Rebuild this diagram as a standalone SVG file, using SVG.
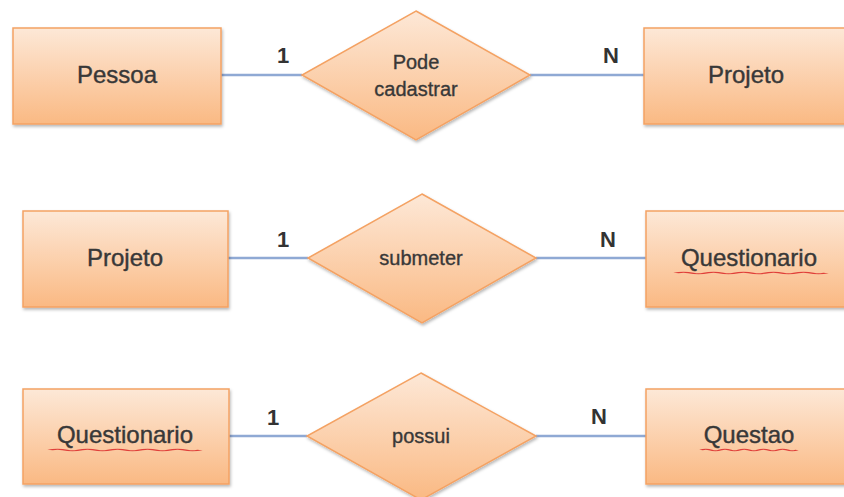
<svg xmlns="http://www.w3.org/2000/svg" width="844" height="497" viewBox="0 0 844 497">
  <defs>
    <linearGradient id="peach" x1="0" y1="0" x2="0" y2="1">
      <stop offset="0" stop-color="#fde8d7"/>
      <stop offset="1" stop-color="#fab983"/>
    </linearGradient>
    <filter id="shadow" x="-10%" y="-10%" width="130%" height="130%">
      <feDropShadow dx="1" dy="2" stdDeviation="1.5" flood-color="#000" flood-opacity="0.28"/>
    </filter>
    <path id="wave" d="M0,0 q1,-1.4 2,0 t2,0 t2,0 t2,0 t2,0 t2,0 t2,0 t2,0 t2,0 t2,0"/>
  </defs>
  <style>
    .shape { fill: url(#peach); stroke: #f4a263; stroke-width: 1.5; filter: url(#shadow); }
    .link { stroke: #8fa9d4; stroke-width: 2.5; fill: none; }
    .big { font-family: "Liberation Sans", Arial, sans-serif; font-size: 24px; fill: #383838; stroke: #383838; stroke-width: 0.4; text-anchor: middle; }
    .rel { font-family: "Liberation Sans", Arial, sans-serif; font-size: 20px; fill: #383838; stroke: #383838; stroke-width: 0.35; text-anchor: middle; }
    .card { font-family: "Liberation Sans", Arial, sans-serif; font-size: 22px; font-weight: bold; fill: #333333; text-anchor: middle; }
    .spell { stroke: #e0403a; stroke-width: 0.9; fill: none; }
  </style>
  <rect width="844" height="497" fill="#ffffff"/>

  <!-- connectors with cardinality labels -->
  <g id="connectors">
    <line class="link" x1="221" y1="75" x2="302" y2="75"/>
    <line class="link" x1="530" y1="75" x2="644" y2="75"/>
    <line class="link" x1="228" y1="258" x2="308" y2="258"/>
    <line class="link" x1="536" y1="258" x2="646" y2="258"/>
    <line class="link" x1="229" y1="436" x2="307" y2="436"/>
    <line class="link" x1="536" y1="436" x2="646" y2="436"/>
    <text class="card" x="283" y="63">1</text>
    <text class="card" x="611" y="63">N</text>
    <text class="card" x="283" y="247">1</text>
    <text class="card" x="608" y="247">N</text>
    <text class="card" x="273" y="425">1</text>
    <text class="card" x="599" y="424">N</text>
  </g>

  <!-- row 1: Pessoa - Pode cadastrar - Projeto -->
  <g id="pessoa">
    <rect class="shape" x="13" y="28" width="208" height="96"/>
    <text class="big" x="117" y="83">Pessoa</text>
  </g>
  <g id="pode-cadastrar">
    <polygon class="shape" points="416,11 530,75 416,140 302,75"/>
    <text class="rel" x="416" y="69">Pode</text>
    <text class="rel" x="416" y="96">cadastrar</text>
  </g>
  <g id="projeto-1">
    <rect class="shape" x="644" y="28" width="210" height="96"/>
    <text class="big" x="746" y="83">Projeto</text>
  </g>

  <!-- row 2: Projeto - submeter - Questionario -->
  <g id="projeto-2">
    <rect class="shape" x="23" y="211" width="205" height="96"/>
    <text class="big" x="125" y="266">Projeto</text>
  </g>
  <g id="submeter">
    <polygon class="shape" points="422,194 536,258 422,323 308,258"/>
    <text class="rel" x="421" y="265">submeter</text>
  </g>
  <g id="questionario-1">
    <rect class="shape" x="646" y="211" width="208" height="96"/>
    <text class="big" x="749" y="266">Questionario</text>
    <use href="#wave" class="spell" transform="translate(676,273) scale(7.5,1)"/>
  </g>

  <!-- row 3: Questionario - possui - Questao -->
  <g id="questionario-2">
    <rect class="shape" x="23" y="389" width="206" height="95"/>
    <text class="big" x="125" y="443">Questionario</text>
    <use href="#wave" class="spell" transform="translate(50,450) scale(7.5,1)"/>
  </g>
  <g id="possui">
    <polygon class="shape" points="421,373 536,436 421,500 307,436"/>
    <text class="rel" x="421" y="443">possui</text>
  </g>
  <g id="questao">
    <rect class="shape" x="646" y="389" width="208" height="95"/>
    <text class="big" x="749" y="443">Questao</text>
    <use href="#wave" class="spell" transform="translate(701,450) scale(4.8,1)"/>
  </g>
</svg>
